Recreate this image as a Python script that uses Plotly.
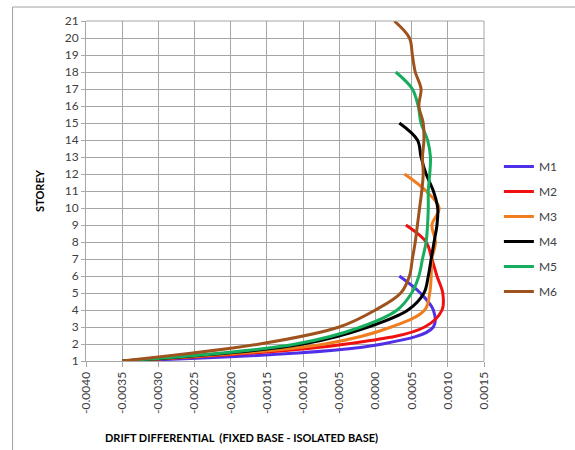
import plotly.graph_objects as go

storeys_m1 = [1, 2, 3, 4, 5, 6]
m1 = [-0.0035, 0.0001, 0.0008, 0.0008, 0.00062, 0.00033]

storeys_m2 = [1, 2, 3, 4, 5, 6, 7, 8, 9]
m2 = [-0.0035, -0.0004, 0.00068, 0.00092, 0.00093, 0.00085, 0.00078, 0.0007, 0.00042]

storeys_m3 = [1, 2, 3, 4, 5, 6, 7, 8, 9, 10, 11, 12]
m3 = [-0.0035, -0.0007, 0.00022, 0.00068, 0.00075, 0.00077, 0.00078, 0.00083, 0.00078, 0.00088, 0.0007, 0.0004]

storeys_m4 = [1, 2, 3, 4, 5, 6, 7, 8, 9, 10, 11, 12, 13, 14, 15]
m4 = [-0.0035, -0.001, -0.0001, 0.00045, 0.00067, 0.00073, 0.00077, 0.00081, 0.00085, 0.00086, 0.0008, 0.0007, 0.00063, 0.00058, 0.00033]

storeys_m5 = [1, 2, 3, 4, 5, 6, 7, 8, 9, 10, 11, 12, 13, 14, 15, 16, 17, 18]
m5 = [-0.0035, -0.0011, -0.0002, 0.0003, 0.0005, 0.0006, 0.00065, 0.0007, 0.00072, 0.00073, 0.00073, 0.00075, 0.00076, 0.00072, 0.00063, 0.00059, 0.00051, 0.00028]

storeys_m6 = list(range(1, 22))
m6 = [-0.0035, -0.0016, -0.0005, 0.0, 0.00035, 0.00047, 0.00051, 0.00055, 0.00058, 0.00061, 0.00064, 0.00066, 0.00065, 0.00067, 0.00066, 0.0006, 0.00063, 0.00055, 0.00051, 0.00047, 0.00026]

series_names = ["M1", "M2", "M3", "M4", "M5", "M6"]
series_x = [m1, m2, m3, m4, m5, m6]
series_y = [storeys_m1, storeys_m2, storeys_m3, storeys_m4, storeys_m5, storeys_m6]
colors = ["#5030E6", "#F01010", "#F07E1E", "#000000", "#16AE5E", "#9E531E"]

x_tickvals = [-0.004, -0.0035, -0.003, -0.0025, -0.002, -0.0015, -0.001, -0.0005, 0.0, 0.0005, 0.001, 0.0015]
x_ticktext = ["-0.0040", "-0.0035", "-0.0030", "-0.0025", "-0.0020", "-0.0015", "-0.0010", "-0.0005",
              "0.0000", "0.0005", "0.0010", "0.0015"]
y_tickvals = list(range(1, 22))

FONT = "Lato"
GRID = "#A6A6A6"

fig = go.Figure()
for i, (name, xs, ys, c) in enumerate(zip(series_names, series_x, series_y, colors)):
    fig.add_trace(go.Scatter(
        x=xs, y=ys, mode="lines", name=name,
        line=dict(color=c, width=3, shape="spline", smoothing=1.0),
        legendgroup=name,
    ))

L, R, T, B = 86, 88, 21, 89
W, H = 575, 450
pw, ph = W - L - R, H - T - B

def px_x(px):
    return (px - L) / pw

def px_y(py):
    return (H - B - py) / ph

fig.update_layout(
    width=W, height=H,
    margin=dict(l=L, r=R, t=T, b=B, pad=0),
    paper_bgcolor="white", plot_bgcolor="white",
    font=dict(family=FONT, size=12, color="#404040"),
    showlegend=True,
    legend=dict(
        x=px_x(502), y=px_y(152), xanchor="left", yanchor="top",
        font=dict(family=FONT, size=12, color="#404040"),
        tracegroupgap=6, itemwidth=30, bgcolor="rgba(0,0,0,0)",
    ),
    xaxis=dict(
        range=[-0.004, 0.0015], tickvals=x_tickvals, ticktext=x_ticktext,
        tickangle=-90, showgrid=True, gridcolor=GRID, gridwidth=1,
        showline=True, linecolor=GRID, linewidth=1,
        ticks="outside", ticklen=5, tickcolor=GRID,
        zeroline=False, automargin=False,
        tickfont=dict(family=FONT, size=12, color="#404040"),
    ),
    yaxis=dict(
        range=[1, 21], tickvals=y_tickvals, showgrid=True, gridcolor=GRID, gridwidth=1,
        showline=True, linecolor=GRID, linewidth=1,
        ticks="outside", ticklen=4, tickcolor=GRID,
        zeroline=False, automargin=False,
        tickfont=dict(family=FONT, size=12, color="#404040"),
        title=dict(text="<b>STOREY</b>", font=dict(family=FONT, size=11, color="#000000"), standoff=17),
    ),
    annotations=[
        dict(text="<b>DRIFT DIFFERENTIAL  (FIXED BASE - ISOLATED BASE)</b>",
             xref="paper", yref="paper", x=px_x(243), y=px_y(437),
             xanchor="center", yanchor="middle", showarrow=False,
             font=dict(family=FONT, size=11, color="#000000")),
    ],
    shapes=[
        dict(type="rect", xref="paper", yref="paper",
             x0=px_x(12), x1=px_x(600), y0=px_y(470), y1=px_y(7),
             line=dict(color="#A0A0A0", width=1), fillcolor="rgba(0,0,0,0)", layer="above"),
        dict(type="line", xref="paper", yref="paper",
             x0=1, x1=1, y0=0, y1=1, line=dict(color=GRID, width=1)),
        dict(type="line", xref="paper", yref="paper",
             x0=0, x1=1, y0=1, y1=1, line=dict(color=GRID, width=1)),
    ],
)

fig.write_html("out.html")
